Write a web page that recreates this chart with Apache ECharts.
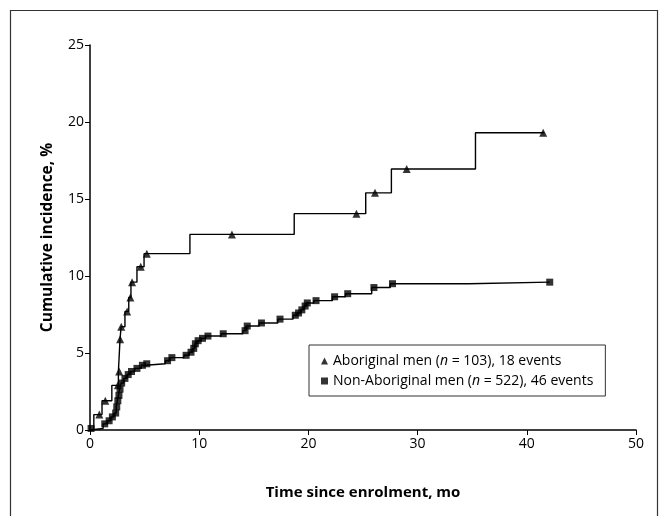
<!DOCTYPE html>
<html>
<head>
<meta charset="utf-8">
<script src="https://cdn.jsdelivr.net/npm/echarts@6/dist/echarts.min.js"></script>
<style>
  html, body { margin: 0; padding: 0; background: #fff; }
  #chart { width: 667px; height: 516px; }
</style>
</head>
<body>
<div id="chart"></div>
<script>
// Aboriginal men: step points [month, %] and triangle markers
const aborigSteps = [
  [0, 0], [0.35, 1.0], [1.1, 1.9], [2.0, 2.9], [2.6, 3.8], [2.75, 5.9], [2.85, 6.7],
  [3.2, 7.7], [3.55, 8.6], [3.75, 9.6], [4.3, 10.6], [4.95, 11.45], [9.15, 12.7],
  [18.7, 14.05], [25.25, 15.4], [27.6, 16.95], [35.3, 19.3], [41.6, 19.3]
]
const aborigMarks = [
  [0.85, 1.0], [1.4, 1.9], [2.55, 2.9], [2.67, 3.8], [2.76, 5.9], [2.86, 6.7], [3.4, 7.7],
  [3.7, 8.6], [3.85, 9.6], [4.65, 10.6], [5.2, 11.45], [13.0, 12.7], [24.4, 14.05],
  [26.1, 15.4], [29.0, 16.95], [41.5, 19.3]
]
// Non-Aboriginal men
const nonSteps = [
  [0, 0], [0.05, 0.1], [1.2, 0.4], [1.6, 0.6], [1.9, 0.85], [2.2, 1.1], [2.4, 1.5], [2.5, 1.9],
  [2.6, 2.25], [2.7, 2.65], [2.85, 3.05], [3.1, 3.35], [3.4, 3.6], [3.7, 3.8], [4.1, 4.0],
  [4.7, 4.2], [5.1, 4.3], [6.9, 4.5], [7.3, 4.7], [8.6, 4.85], [9.1, 5.05], [9.4, 5.3],
  [9.6, 5.6], [9.8, 5.8], [10.2, 5.95], [10.6, 6.1], [12.0, 6.25], [14.0, 6.45], [14.3, 6.75],
  [15.5, 6.95], [17.2, 7.2], [18.6, 7.45], [19.0, 7.6], [19.3, 7.8], [19.6, 8.05], [19.8, 8.25],
  [20.5, 8.4], [22.2, 8.65], [23.4, 8.85], [25.8, 9.25], [27.5, 9.5], [34.7, 9.6], [42.1, 9.6]
]
const nonMarks = [
  [0.1, 0.1], [1.35, 0.4], [1.75, 0.6], [2.05, 0.85], [2.35, 1.1], [2.45, 1.5], [2.55, 1.9],
  [2.65, 2.25], [2.75, 2.65], [2.9, 3.05], [3.2, 3.35], [3.5, 3.6], [3.8, 3.8], [4.3, 4.0],
  [4.8, 4.2], [5.2, 4.3], [7.1, 4.5], [7.5, 4.7], [8.8, 4.85], [9.25, 5.05], [9.5, 5.3],
  [9.65, 5.6], [9.9, 5.8], [10.3, 5.95], [10.8, 6.1], [12.2, 6.25], [14.2, 6.45], [14.4, 6.75],
  [15.7, 6.95], [17.4, 7.2], [18.8, 7.45], [19.1, 7.6], [19.4, 7.8], [19.7, 8.05], [19.9, 8.25],
  [20.7, 8.4], [22.4, 8.65], [23.6, 8.85], [26.0, 9.25], [27.7, 9.5], [42.1, 9.6]
]
const names = ['Aboriginal men (n = 103), 18 events', 'Non-Aboriginal men (n = 522), 46 events']

const font = '"Open Sans", sans-serif'
const chart = echarts.init(document.getElementById('chart'))

const option = {
  animation: false,
  backgroundColor: '#fff',
  textStyle: { fontFamily: font, color: '#000' },
  graphic: [{
    type: 'rect',
    shape: { x: 10.5, y: 10.5, width: 647, height: 520 },
    style: { fill: 'none', stroke: '#333', lineWidth: 1.2 },
    silent: true
  }],
  grid: { left: 90, right: 31, top: 45, bottom: 86 },
  legend: {
    orient: 'vertical',
    left: 309,
    top: 345,
    padding: [9, 12, 8, 12],
    itemGap: 6,
    itemWidth: 7,
    itemHeight: 7,
    borderColor: '#333',
    borderWidth: 1,
    data: names,
    formatter: function (name) {
      return name.replace('(n =', '({it|n} =')
    },
    textStyle: {
      fontFamily: font,
      fontSize: 14,
      color: '#000',
      rich: { it: { fontStyle: 'italic', fontFamily: font, fontSize: 14 } }
    }
  },
  xAxis: {
    type: 'value',
    min: 0,
    max: 50,
    interval: 10,
    name: 'Time since enrolment, mo',
    nameLocation: 'middle',
    nameGap: 55,
    nameTextStyle: { fontFamily: font, fontSize: 15, fontWeight: 'bold', color: '#000' },
    axisLine: { lineStyle: { color: '#000', width: 1.5 } },
    axisTick: { length: 5, lineStyle: { color: '#000' } },
    axisLabel: { fontFamily: font, fontSize: 14, color: '#000', margin: 7 },
    splitLine: { show: false }
  },
  yAxis: {
    type: 'value',
    min: 0,
    max: 25,
    interval: 5,
    name: 'Cumulative incidence, %',
    nameLocation: 'middle',
    nameGap: 34,
    nameTextStyle: { fontFamily: font, fontSize: 15.5, fontWeight: 'bold', color: '#000' },
    axisLine: { show: true, lineStyle: { color: '#000', width: 1.5 } },
    axisTick: { show: true, length: 5, lineStyle: { color: '#000' } },
    axisLabel: { fontFamily: font, fontSize: 14, color: '#000', margin: 6 },
    splitLine: { show: false }
  },
  series: [
    {
      name: 'aborigLine',
      type: 'line',
      step: 'end',
      data: aborigSteps,
      showSymbol: false,
      symbol: 'none',
      lineStyle: { color: '#000', width: 1.4 },
      z: 2
    },
    {
      name: 'nonLine',
      type: 'line',
      step: 'end',
      data: nonSteps,
      showSymbol: false,
      symbol: 'none',
      lineStyle: { color: '#000', width: 1.4 },
      z: 2
    },
    {
      name: names[0],
      type: 'scatter',
      symbol: 'triangle',
      symbolSize: 8,
      data: aborigMarks,
      itemStyle: { color: '#000' },
      z: 3
    },
    {
      name: names[1],
      type: 'scatter',
      symbol: 'rect',
      symbolSize: 7,
      data: nonMarks,
      itemStyle: { color: '#000' },
      z: 3
    }
  ]
}

option && chart.setOption(option)
</script>
</body>
</html>
